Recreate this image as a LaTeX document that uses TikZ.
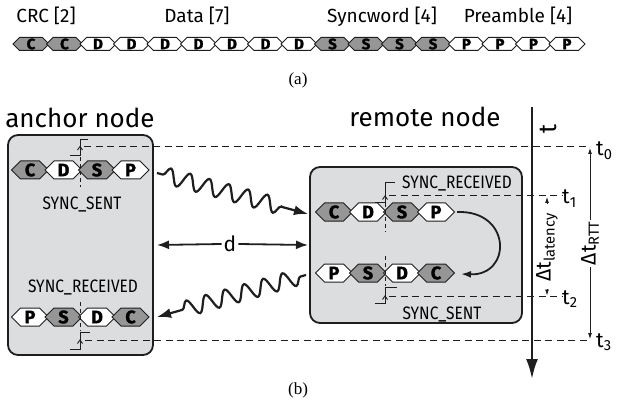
\documentclass[tikz,border=0pt]{standalone}
\usepackage{fontspec}
\setmainfont{Fira Sans}
\newfontfamily\condfont[FakeStretch=0.86]{Fira Sans}
\newfontfamily\heavyfont[FakeBold=1.6]{Fira Sans}
\newfontfamily\seriffont{Liberation Serif}
\usetikzlibrary{arrows.meta,decorations.pathmorphing}
\definecolor{hexgray}{RGB}{150,150,150}
\definecolor{boxgray}{RGB}{220,221,223}
\definecolor{ink}{RGB}{30,30,30}
\newcommand{\fsz}[1]{\fontsize{#1}{#1}\selectfont}
\newcommand{\hexcell}[7]{%
  \draw[hexline,fill=#6] ({#2-#4},#3) -- ({#2-#4+#5},{#3-#5}) -- ({#2+#4-#5},{#3-#5}) -- ({#2+#4},#3) -- ({#2+#4-#5},{#3+#5}) -- ({#2-#4+#5},{#3+#5}) -- cycle;
  \node[hexletter] (#1) at (#2,#3) {#7};}
\begin{document}
\begin{tikzpicture}[x=1pt,y=-1pt,
  hexline/.style={draw=ink,line width=1pt,line join=miter},
  hexletter/.style={inner sep=0pt,font=\heavyfont\bfseries\fsz{15}},
  lbl/.style={inner sep=0pt,anchor=base},
  nodebox/.style={draw=ink,fill=boxgray,line width=1.8pt,rounded corners=10pt},
  dashline/.style={draw=ink,line width=1pt,dash pattern=on 7pt off 4.5pt},
  vdash/.style={draw=ink,line width=0.9pt,dash pattern=on 4pt off 3pt},
  stepline/.style={draw=ink,line width=0.9pt},
  bigarrow/.style={draw=ink,line width=1.8pt,-{Latex[length=12pt,width=9pt]}},
  wave/.style={draw=ink,line width=2.2pt,decorate,-{Latex[length=14pt,width=10pt]}},
  thinarrow/.style={draw=ink,line width=0.8pt,-{Latex[length=6pt,width=4pt]}}]
\useasboundingbox (0,0) rectangle (628,403);

% ---------- (a) ----------
\node[lbl,font=\fsz{19}] (lcrc) at (46,23) {CRC [2]};
\node[lbl,font=\fsz{19}] (ldata) at (197,23) {Data [7]};
\node[lbl,font=\fsz{19}] (lsync) at (382,23) {Syncword [4]};
\node[lbl,font=\fsz{19}] (lpre) at (518,23) {Preamble [4]};
\foreach \l/\f [count=\i from 0] in {C/hexgray,C/hexgray,D/white,D/white,D/white,D/white,D/white,D/white,D/white,S/hexgray,S/hexgray,S/hexgray,S/hexgray,P/white,P/white,P/white,P/white}{
  \pgfmathsetmacro\xx{31+33.5*\i}
  \hexcell{a\i}{\xx}{44}{18}{6.5}{\f}{\l}
}
\node[lbl,font=\seriffont\fsz{17}] (capa) at (298,85) {(a)};

% ---------- (b) ----------
\node[lbl,font=\fsz{26}] (anchortitle) at (80,128) {anchor node};
\node[lbl,font=\fsz{26}] (remotetitle) at (425,127) {remote node};

\draw[nodebox] (8,135) rectangle (153,355);
\draw[nodebox] (310,167) rectangle (522,323);

\tikzset{hexletter/.style={inner sep=0pt,font=\heavyfont\bfseries\fsz{18}}}
% anchor top
\hexcell{ac}{30}{170}{18.5}{9}{hexgray}{C}
\hexcell{ad}{63.5}{170}{18.5}{9}{white}{D}
\hexcell{as}{97}{170}{18.5}{9}{hexgray}{S}
\hexcell{ap}{130.5}{170}{18.5}{9}{white}{P}
% anchor bottom
\hexcell{bp}{30}{317}{18.5}{9}{white}{P}
\hexcell{bs}{63.5}{317}{18.5}{9}{hexgray}{S}
\hexcell{bd}{97}{317}{18.5}{9}{white}{D}
\hexcell{bc}{130.5}{317}{18.5}{9}{hexgray}{C}
% remote top
\hexcell{rc}{334}{212}{18.5}{9}{hexgray}{C}
\hexcell{rd}{368}{212}{18.5}{9}{white}{D}
\hexcell{rs}{402}{212}{18.5}{9}{hexgray}{S}
\hexcell{rp}{436}{212}{18.5}{9}{white}{P}
% remote bottom
\hexcell{qp}{334}{273}{18.5}{9}{white}{P}
\hexcell{qs}{368}{273}{18.5}{9}{hexgray}{S}
\hexcell{qd}{402}{273}{18.5}{9}{white}{D}
\hexcell{qc}{436}{273}{18.5}{9}{hexgray}{C}

% state labels
\node[lbl,font=\condfont\fsz{18}] (s1) at (82,209) {SYNC\_SENT};
\node[lbl,font=\condfont\fsz{18}] (s2) at (83,292) {SYNC\_RECEIVED};
\node[lbl,font=\condfont\fsz{18}] (s3) at (457,189) {SYNC\_RECEIVED};
\node[lbl,font=\condfont\fsz{18}] (s4) at (442,319) {SYNC\_SENT};

% step markers and vertical dashes
\draw[vdash] (80,157) -- (80,187);
\draw[stepline] (70,155) -- (80,155) -- (80,139) -- (88,139);
\draw[stepline] (77.5,150) -- (80,146.5) -- (82.5,150);
\draw[vdash] (80,302) -- (80,331);
\draw[stepline] (70,349) -- (80,349) -- (80,332) -- (90,332);
\draw[stepline] (77.5,343.5) -- (80,340) -- (82.5,343.5);
\draw[vdash] (385,203) -- (385,232);
\draw[stepline] (375,202) -- (385,202) -- (385,182) -- (395,182);
\draw[stepline] (382.5,199.5) -- (385,196) -- (387.5,199.5);
\draw[vdash] (385,256) -- (385,286);
\draw[stepline] (375,303) -- (385,303) -- (385,287) -- (397,287);
\draw[stepline] (382.5,299.5) -- (385,296) -- (387.5,299.5);

% time lines
\coordinate (t0s) at (84,147);  \coordinate (t0e) at (589,147);
\coordinate (t1s) at (389,196); \coordinate (t1e) at (562,196);
\coordinate (t2s) at (389,296); \coordinate (t2e) at (562,296);
\coordinate (t3s) at (85,340);  \coordinate (t3e) at (589,340);
\draw[dashline] (t0s) -- (t0e);
\draw[dashline] (t1s) -- (t1e);
\draw[dashline] (t2s) -- (t2e);
\draw[dashline] (t3s) -- (t3e);

% time axis
\coordinate (axtop) at (532,107);
\coordinate (axbot) at (532,379);
\draw[draw=ink,line width=2.4pt,-{Latex[length=20pt,width=12pt]}] (axtop) -- (axbot);
\node[rotate=90,inner sep=0pt,font=\fsz{25}] (tsym) at (548,129) {t};

\node[lbl,anchor=base west,font=\fsz{21}] (lt0) at (596,156) {t\textsubscript{0}};
\node[lbl,anchor=base west,font=\fsz{21}] (lt1) at (562,204) {t\textsubscript{1}};
\node[lbl,anchor=base west,font=\fsz{21}] (lt2) at (562,304) {t\textsubscript{2}};
\node[lbl,anchor=base west,font=\fsz{21}] (lt3) at (596,347) {t\textsubscript{3}};

% delta t RTT
\node[rotate=90,inner sep=0pt,font=\fsz{21}] (rtt) at (590,243) {Δt\textsubscript{RTT}};
\coordinate (rttA) at (590,220); \coordinate (rttAt) at (590,148);
\coordinate (rttB) at (590,267); \coordinate (rttBt) at (590,339);
\draw[thinarrow] (rttA) -- (rttAt);
\draw[thinarrow] (rttB) -- (rttBt);
% delta t latency
\node[rotate=90,inner sep=0pt,font=\fsz{21}] (lat) at (547,247) {Δt\textsubscript{latency}};
\coordinate (latA) at (547,204); \coordinate (latAt) at (547,197);
\coordinate (latB) at (547,289); \coordinate (latBt) at (547,295.5);
\draw[thinarrow] (latA) -- (latAt);
\draw[thinarrow] (latB) -- (latBt);

% distance d
\node[inner sep=2pt,font=\fsz{21}] (dlab) at (230,244) {d};
\coordinate (dL) at (157,245); \coordinate (dR) at (308,245);
\draw[bigarrow] (dlab.west) -- (dL);
\draw[bigarrow] (dlab.east) -- (dR);

% radio waves
\coordinate (w1s) at (157,173); \coordinate (w1e) at (308,214);
\coordinate (w2s) at (306,275); \coordinate (w2e) at (157,317);
\draw[wave,decoration={snake,amplitude=8pt,segment length=20pt,pre length=6pt,post length=22pt}] (w1s) -- (w1e);
\draw[wave,decoration={snake,amplitude=8pt,segment length=20pt,pre length=6pt,post length=22pt}] (w2s) -- (w2e);

% loop arrow in remote node
\coordinate (lpA) at (457,212);
\coordinate (lpB) at (461,274);
\draw[draw=ink,line width=1.8pt,-{Latex[length=10pt,width=7pt]}] (lpA) .. controls (512,210) and (512,276) .. (lpB);

\node[lbl,font=\seriffont\fsz{17}] (capb) at (298,394) {(b)};
\end{tikzpicture}
\end{document}
